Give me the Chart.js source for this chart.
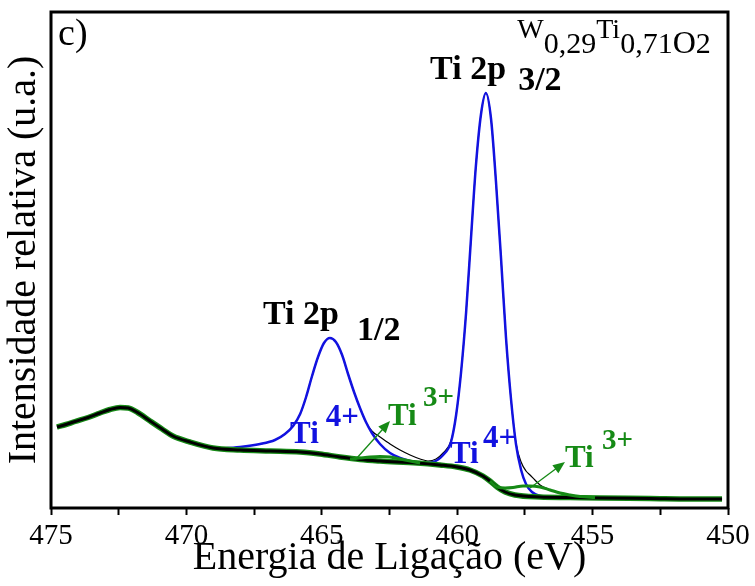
<!DOCTYPE html>
<html>
<head>
<meta charset="utf-8">
<script src="https://cdn.jsdelivr.net/npm/chart.js@4.4.1/dist/chart.umd.min.js"></script>
<style>
  html, body { margin: 0; padding: 0; background: #fff; }
  #wrap { width: 755px; height: 586px; }
</style>
</head>
<body>
<div id="wrap"><canvas id="xps" width="755" height="586"></canvas></div>
<script>
// Ti 2p spectrum, W0,29Ti0,71O2 (eV / a.u.)
const bgEnergy = [474.78, 474.45, 474.11, 473.63, 473.19, 472.82, 472.45, 472.15, 471.80, 471.34, 470.90, 470.50, 469.87, 469.02, 468.02, 466.91, 465.80, 465.07, 464.33, 463.59, 462.85, 461.48, 460.64, 460.01, 459.53, 459.05, 458.79, 458.53, 458.23, 457.87, 456.94, 455.83, 454.73, 452.88, 451.40, 450.22];
const bgIntensity = [81, 83.5, 86.5, 90.5, 95, 98.5, 100.5, 100, 95.5, 87, 79, 72, 66, 60, 58, 57, 56, 54, 51, 48.5, 47, 45, 43, 41, 38, 32, 27, 21, 16, 13, 11, 10.5, 10, 9.5, 9, 9];

const ti4Energy = [468.94, 468.02, 467.28, 466.73, 466.36, 466.06, 465.80, 465.58, 465.36, 465.14, 464.92, 464.70, 464.48, 464.25, 464.03, 463.81, 463.59, 463.37, 463.15, 462.85, 462.48, 462.11, 461.74, 461.26, 460.89, 460.52, 460.23, 460.04, 459.86, 459.67, 459.49, 459.31, 459.12, 458.94, 458.75, 458.57, 458.38, 458.20, 458.01, 457.83, 457.64, 457.46, 457.24, 456.94, 456.57, 456.20];
const ti4Intensity = [59, 61, 64, 68, 74, 82, 94, 111, 132, 151, 165, 170, 166, 153, 134, 116, 100, 86, 75, 64, 55, 50, 47, 45, 46, 53, 66, 93, 135, 196, 270, 342, 394, 415, 389, 327, 249, 171, 108, 64, 38, 24, 16, 12, 11, 10.5];

const fitEnergy = [468.94, 468.02, 467.28, 466.73, 466.36, 466.06, 465.80, 465.58, 465.36, 465.14, 464.92, 464.70, 464.48, 464.25, 464.03, 463.81, 463.59, 463.37, 463.15, 462.85, 462.48, 462.11, 461.74, 461.37, 461.08, 460.78, 460.52, 460.23, 460.04, 459.86, 459.67, 459.49, 459.31, 459.12, 458.94, 458.75, 458.57, 458.38, 458.20, 458.01, 457.83, 457.64, 457.46, 457.31, 457.13, 456.94, 456.65, 456.31, 456.02, 455.72, 455.28];
const fitIntensity = [59, 61, 64, 68, 74, 82, 94, 111, 132, 151, 165, 170, 166, 153, 134, 116, 100, 86, 77, 71, 64, 58, 53, 49, 47, 49, 55, 67, 93, 135, 196, 270, 342, 394, 415, 389, 327, 249, 171, 108, 65, 46, 37, 33, 28, 23, 19, 16, 14, 12, 11];

const ti3aEnergy = [463.96, 463.59, 463.22, 462.85, 462.48, 462.11, 461.74, 461.37];
const ti3aIntensity = [49, 50, 51, 51.5, 51, 49, 47, 45];

const ti3bEnergy = [458.79, 458.53, 458.23, 457.94, 457.57, 457.31, 456.94, 456.57, 456.20, 455.83, 455.47, 454.91];
const ti3bIntensity = [27, 21, 20, 20.5, 22, 22, 21, 18, 15, 13, 11.5, 10.5];

const tickLabels = [475, 470, 465, 460, 455, 450];

const serif = "'Liberation Serif', 'Times New Roman', serif";
const blue = "#1212e0";
const green = "#168a16";

function pts(xs, ys) {
  return xs.map((x, i) => ({x: x, y: ys[i]}));
}

// text labels, anchored in data coordinates (eV, intensity)
const notes = [
  {text: "c)", e: 474.74, i: 463, color: "#000", font: "38px " + serif},
  {text: "Ti 2p", e: 461.0, i: 429, color: "#000", font: "bold 34px " + serif},
  {text: "3/2", e: 457.75, i: 418, color: "#000", font: "bold 34px " + serif},
  {text: "Ti 2p", e: 467.17, i: 184, color: "#000", font: "bold 34px " + serif},
  {text: "1/2", e: 463.70, i: 168, color: "#000", font: "bold 34px " + serif},
  {text: "Ti", e: 466.17, i: 65, color: blue, font: "bold 31px " + serif},
  {text: "4+", e: 464.85, i: 82, color: blue, font: "bold 31px " + serif},
  {text: "Ti", e: 462.56, i: 83, color: green, font: "bold 31px " + serif},
  {text: "3+", e: 461.26, i: 102, color: green, font: "bold 29px " + serif},
  {text: "Ti", e: 460.27, i: 45, color: blue, font: "bold 31px " + serif},
  {text: "4+", e: 459.05, i: 61, color: blue, font: "bold 31px " + serif},
  {text: "Ti", e: 456.02, i: 41, color: green, font: "bold 31px " + serif},
  {text: "3+", e: 454.65, i: 59, color: green, font: "bold 29px " + serif},
];

const arrows = [
  {from: [463.77, 48], to: [462.48, 87]},
  {from: [457.31, 20], to: [456.02, 46]},
];

// sample formula W0,29Ti0,71O2 (dy = baseline shift in px)
const formula = {e: 457.78, i: 470, parts: [
  {t: "W", size: 28, dy: 0},
  {t: "0,29", size: 30, dy: 15},
  {t: "Ti", size: 28, dy: 0},
  {t: "0,71", size: 30, dy: 15},
  {t: "O", size: 32, dy: 15},
  {t: "2", size: 30, dy: 15},
]};

const extras = {
  id: "extras",
  afterDraw(chart) {
    const {ctx, chartArea: a, scales: {x, y}} = chart;
    ctx.save();
    ctx.strokeStyle = "#000";
    ctx.lineWidth = 3;
    ctx.strokeRect(a.left, a.top, a.right - a.left, a.bottom - a.top);

    arrows.forEach((ar) => {
      const x0 = x.getPixelForValue(ar.from[0]), y0 = y.getPixelForValue(ar.from[1]);
      const x1 = x.getPixelForValue(ar.to[0]), y1 = y.getPixelForValue(ar.to[1]);
      const ang = Math.atan2(y1 - y0, x1 - x0);
      ctx.strokeStyle = green;
      ctx.fillStyle = green;
      ctx.lineWidth = 1.3;
      ctx.beginPath();
      ctx.moveTo(x0, y0);
      ctx.lineTo(x1 - 8 * Math.cos(ang), y1 - 8 * Math.sin(ang));
      ctx.stroke();
      ctx.beginPath();
      ctx.moveTo(x1, y1);
      ctx.lineTo(x1 - 12 * Math.cos(ang) + 5 * Math.sin(ang), y1 - 12 * Math.sin(ang) - 5 * Math.cos(ang));
      ctx.lineTo(x1 - 12 * Math.cos(ang) - 5 * Math.sin(ang), y1 - 12 * Math.sin(ang) + 5 * Math.cos(ang));
      ctx.closePath();
      ctx.fill();
    });

    ctx.textBaseline = "alphabetic";
    ctx.textAlign = "left";
    notes.forEach((n) => {
      ctx.font = n.font;
      ctx.fillStyle = n.color;
      ctx.fillText(n.text, x.getPixelForValue(n.e), y.getPixelForValue(n.i));
    });

    let fx = x.getPixelForValue(formula.e);
    const fy = y.getPixelForValue(formula.i);
    ctx.fillStyle = "#000";
    formula.parts.forEach((p) => {
      ctx.font = p.size + "px " + serif;
      ctx.fillText(p.t, fx, fy + p.dy);
      fx += ctx.measureText(p.t).width;
    });
    ctx.restore();
  }
};

const line = (data, color, width, order) => ({
  data: data, borderColor: color, borderWidth: width, order: order,
  pointRadius: 0, fill: false, cubicInterpolationMode: "monotone",
});

new Chart(document.getElementById("xps"), {
  type: "line",
  data: {
    datasets: [
      line(pts(ti3bEnergy, ti3bIntensity), green, 3, 1),
      line(pts(ti3aEnergy, ti3aIntensity), green, 3, 1),
      line(pts(bgEnergy, bgIntensity), "#000", 3, 2),
      line(pts(bgEnergy, bgIntensity), green, 5.5, 3),
      line(pts(ti4Energy, ti4Intensity), blue, 2.5, 4),
      line(pts(fitEnergy, fitIntensity), "#000", 1.2, 5),
    ],
  },
  options: {
    responsive: false,
    animation: false,
    layout: {padding: {top: 12, right: 27, left: 0, bottom: 0}},
    plugins: {legend: {display: false}, tooltip: {enabled: false}},
    scales: {
      x: {
        type: "linear",
        min: 450,
        max: 475,
        reverse: true,
        afterFit: (s) => { s.height = 78; },
        border: {display: false},
        grid: {drawOnChartArea: false, drawTicks: true, tickLength: 7, tickWidth: 2, tickColor: "#000"},
        ticks: {
          stepSize: 2.5,
          autoSkip: false,
          maxRotation: 0,
          padding: 4,
          color: "#000",
          font: {family: serif, size: 29},
          callback: (v) => tickLabels.includes(v) ? String(v) : "",
        },
        title: {
          display: true,
          text: "Energia de Ligação (eV)",
          color: "#000",
          font: {family: serif, size: 40, lineHeight: 1},
          padding: {top: 0, bottom: 8},
        },
      },
      y: {
        min: 0,
        max: 496,
        afterFit: (s) => { s.width = 51; },
        border: {display: false},
        grid: {display: false},
        ticks: {display: false},
        title: {
          display: true,
          text: "Intensidade relativa (u.a.)",
          color: "#000",
          font: {family: serif, size: 40, lineHeight: 1},
          padding: {top: 4, bottom: 0},
        },
      },
    },
  },
  plugins: [extras],
});
</script>
</body>
</html>
